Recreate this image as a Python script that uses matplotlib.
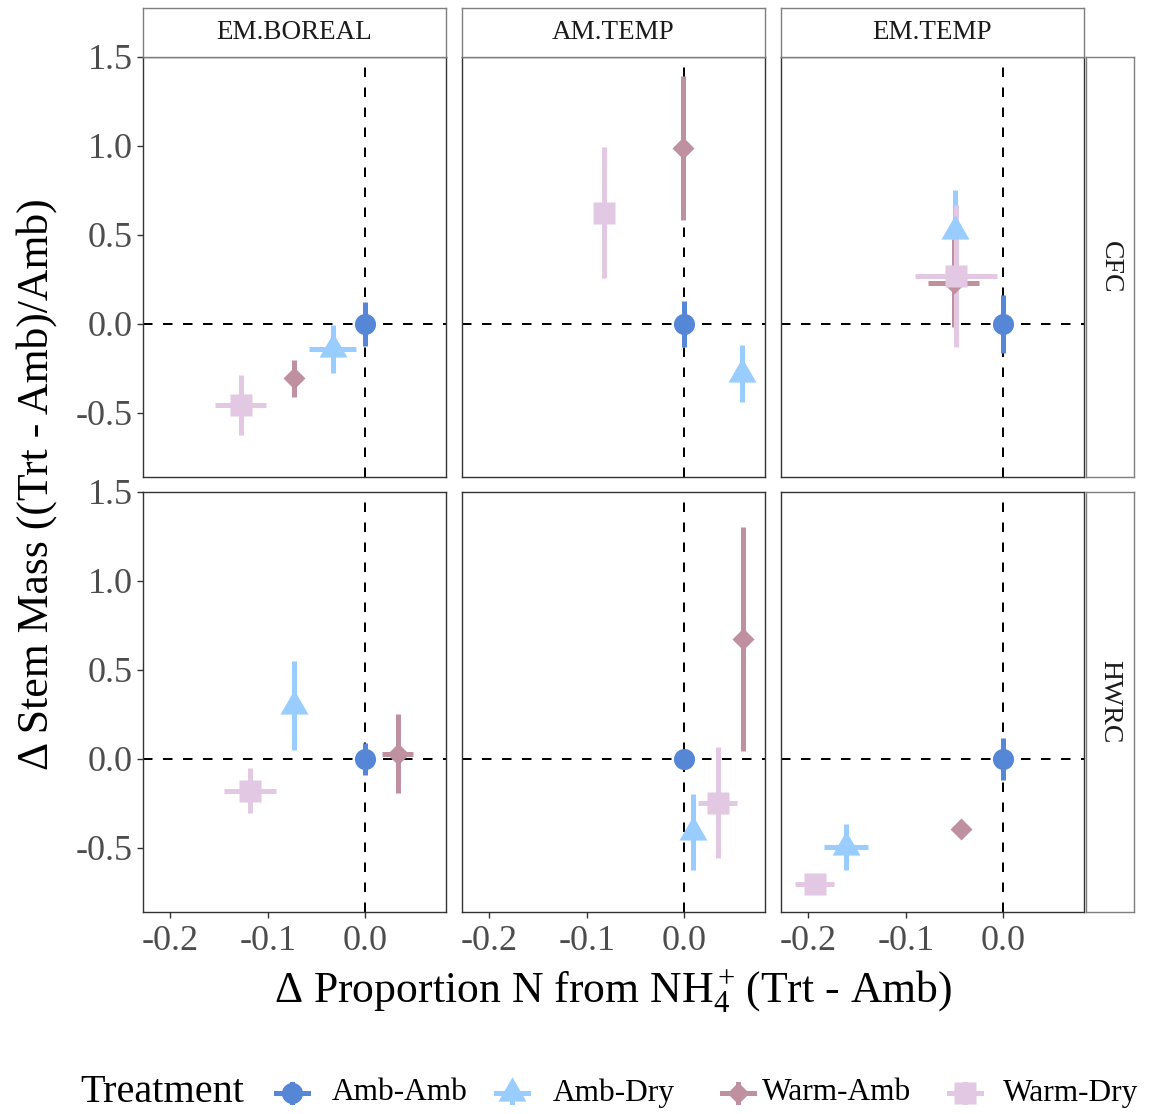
import matplotlib
matplotlib.use("Agg")
import matplotlib.pyplot as plt
from matplotlib.lines import Line2D

plt.rcParams["font.family"] = ["Liberation Serif", "DejaVu Serif"]
plt.rcParams["mathtext.fontset"] = "custom"
plt.rcParams["mathtext.rm"] = "Liberation Serif"
plt.rcParams["mathtext.it"] = "Liberation Serif:italic"
plt.rcParams["axes.unicode_minus"] = False

# ---- data -------------------------------------------------------------
columns = ["EM.BOREAL", "AM.TEMP", "EM.TEMP"]
rows = ["CFC", "HWRC"]
treatments = ["Amb-Amb", "Amb-Dry", "Warm-Amb", "Warm-Dry"]
# panel order: (CFC: EM.BOREAL, AM.TEMP, EM.TEMP), (HWRC: EM.BOREAL, AM.TEMP, EM.TEMP)

amb_amb_x = [0.0, 0.0, 0.0, 0.0, 0.0, 0.0]
amb_amb_y = [0.0, 0.0, 0.0, 0.0, 0.0, 0.0]
amb_amb_xerr = [0.006, 0.006, 0.006, 0.006, 0.006, 0.006]
amb_amb_yerr = [0.125, 0.13, 0.165, 0.09, 0.03, 0.116]

amb_dry_x = [-0.0335, 0.059, -0.050, -0.0728, 0.0085, -0.161]
amb_dry_y = [-0.14, -0.28, 0.52, 0.30, -0.41, -0.494]
amb_dry_xerr = [0.024, 0.006, 0.006, 0.006, 0.006, 0.0225]
amb_dry_yerr = [0.135, 0.16, 0.23, 0.25, 0.215, 0.13]

warm_amb_x = [-0.0728, -0.0014, -0.051, 0.033, 0.0595, -0.044]
warm_amb_y = [-0.305, 0.99, 0.23, 0.03, 0.672, -0.392]
warm_amb_xerr = [0.006, 0.006, 0.026, 0.016, 0.006, 0.006]
warm_amb_yerr = [0.103, 0.405, 0.245, 0.22, 0.63, 0.03]

warm_dry_x = [-0.128, -0.0828, -0.049, -0.118, 0.034, -0.1934]
warm_dry_y = [-0.455, 0.625, 0.27, -0.178, -0.245, -0.703]
warm_dry_xerr = [0.026, 0.006, 0.042, 0.0265, 0.02, 0.02]
warm_dry_yerr = [0.17, 0.367, 0.40, 0.127, 0.31, 0.03]

x_ticks = [-0.2, -0.1, 0.0]
x_tick_labels = ["-0.2", "-0.1", "0.0"]
y_ticks = [-0.5, 0.0, 0.5, 1.0, 1.5]
y_tick_labels = ["-0.5", "0.0", "0.5", "1.0", "1.5"]

# ---- styles -----------------------------------------------------------
colors = {"Amb-Amb": "#5587D6", "Amb-Dry": "#99CCFF",
          "Warm-Amb": "#BF909F", "Warm-Dry": "#E2C8E2"}
tri = [(-1.0, -0.57735), (1.0, -0.57735), (0.0, 1.1547), (-1.0, -0.57735)]
markers = {"Amb-Amb": ("o", 15.2), "Amb-Dry": (tri, 23.3),
           "Warm-Amb": ("D", 10.8), "Warm-Dry": ("s", 15.6)}
series = {
    "Amb-Amb": (amb_amb_x, amb_amb_y, amb_amb_xerr, amb_amb_yerr),
    "Amb-Dry": (amb_dry_x, amb_dry_y, amb_dry_xerr, amb_dry_yerr),
    "Warm-Amb": (warm_amb_x, warm_amb_y, warm_amb_xerr, warm_amb_yerr),
    "Warm-Dry": (warm_dry_x, warm_dry_y, warm_dry_xerr, warm_dry_yerr),
}

W, H = 1155, 1114
fig = plt.figure(figsize=(W / 100, H / 100), dpi=100)


def frac(x, ytop, w, h):
    return [x / W, 1 - (ytop + h) / H, w / W, h / H]


col_x = [143, 462, 781]
row_y = [57, 492]
pw, ph = 303, 420
dark = "#333333"
strip_edge = "#7F7F7F"
dash = (0, (4.75, 5.25))

for r, row in enumerate(rows):
    for c, col in enumerate(columns):
        k = r * 3 + c
        ax = fig.add_axes(frac(col_x[c], row_y[r], pw, ph))
        ax.set_xlim(-0.228, 0.0825)
        ax.set_ylim(-0.86, 1.5)
        ax.axhline(0, color="black", lw=1.44, ls=dash, zorder=1)
        ax.axvline(0, color="black", lw=1.44, ls=dash, zorder=1)
        # all error bars first, then the points on top
        for t in treatments:
            xs, ys, xe, ye = series[t]
            ax.errorbar([xs[k]], [ys[k]], xerr=[xe[k]], yerr=[ye[k]], fmt="none",
                        ecolor=colors[t], elinewidth=3.6, capsize=0, zorder=2)
        for t in treatments:
            xs, ys, xe, ye = series[t]
            m, ms = markers[t]
            ax.plot([xs[k]], [ys[k]], linestyle="none", marker=m, ms=ms,
                    color=colors[t], mec="none", zorder=3)
        for s in ax.spines.values():
            s.set_color(dark)
            s.set_linewidth(1.0)
        ax.tick_params(direction="out", length=4.3, width=1.0, color=dark,
                       labelcolor="#4D4D4D", labelsize=26, pad=3)
        ax.tick_params(axis="x", pad=5)
        ax.set_xticks(x_ticks)
        ax.set_yticks(y_ticks)
        if r == 1:
            ax.set_xticklabels(x_tick_labels)
        else:
            ax.tick_params(axis="x", bottom=False, labelbottom=False)
        if c == 0:
            ax.set_yticklabels(y_tick_labels)
        else:
            ax.tick_params(axis="y", left=False, labelleft=False)

        # column strip
        if r == 0:
            sax = fig.add_axes(frac(col_x[c], 8, pw, 49))
            sax.set_xticks([]); sax.set_yticks([])
            for s in sax.spines.values():
                s.set_color(strip_edge); s.set_linewidth(1.0)
            sax.text(0.5, 0.5, col, ha="center", va="center", fontsize=19.5,
                     color="#1A1A1A", transform=sax.transAxes)
    # row strip
    rax = fig.add_axes(frac(1086, row_y[r], 48, ph))
    rax.set_xticks([]); rax.set_yticks([])
    for s in rax.spines.values():
        s.set_color(strip_edge); s.set_linewidth(1.0)
    rax.text(0.5, 0.5, row, ha="center", va="center", rotation=-90,
             fontsize=20, color="#1A1A1A", transform=rax.transAxes)

# axis titles
fig.text(613 / W, 1 - 991 / H, r"Δ Proportion N from NH$_4^+\,$(Trt - Amb)",
         ha="center", va="center", fontsize=31.5)
fig.text(37 / W, 1 - 484 / H, "Δ Stem Mass ((Trt - Amb)/Amb)",
         ha="center", va="center", rotation=90, fontsize=31.5)

# legend
ly = 1 - 1093 / H
fig.text(80 / W, ly, "Treatment", ha="left", va="center", fontsize=29)
key_x = [292, 512, 738, 965]
lab_x = [332, 553, 762, 1003]
for t, kx, lx in zip(treatments, key_x, lab_x):
    fig.add_artist(Line2D([(kx - 16) / W, (kx + 16) / W], [ly, ly],
                          transform=fig.transFigure, color=colors[t], lw=3.6))
    fig.add_artist(Line2D([kx / W, kx / W], [ly - 9 / H, ly + 9 / H],
                          transform=fig.transFigure, color=colors[t], lw=3.6))
    m, ms = markers[t]
    fig.add_artist(Line2D([kx / W], [ly], transform=fig.transFigure,
                          linestyle="none", marker=m, ms=ms, color=colors[t],
                          mec="none"))
    fig.text(lx / W, ly, t, ha="left", va="center", fontsize=22.6)

fig.savefig("out.png", dpi=100)
